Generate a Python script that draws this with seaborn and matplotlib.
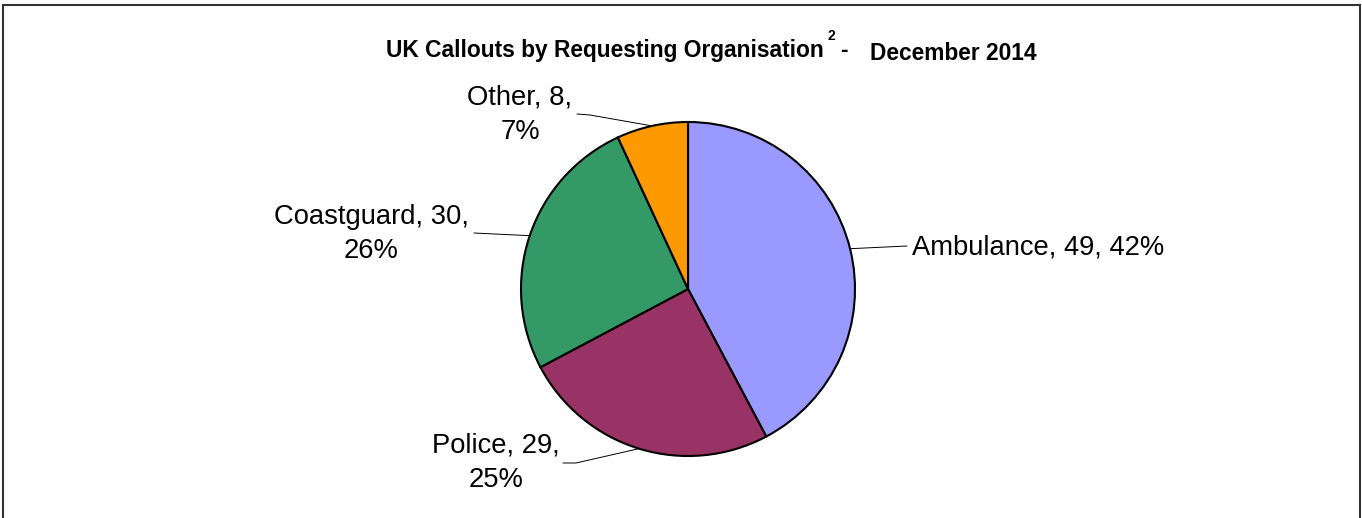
import numpy as np
import seaborn as sns
import matplotlib.pyplot as plt
from matplotlib.patches import Rectangle

# data
organisations = ["Ambulance", "Police", "Coastguard", "Other"]
callouts = [49, 29, 30, 8]
percent_labels = ["42%", "25%", "26%", "7%"]
slice_colors = ["#9999FF", "#993366", "#339966", "#FF9900"]

W, H = 1362, 518
sns.set_theme(style="white")
plt.rcParams["font.family"] = ["Liberation Sans", "DejaVu Sans"]
plt.rcParams["text.color"] = "black"

fig = plt.figure(figsize=(W / 100, H / 100), dpi=100)
ax = fig.add_axes([0, 0, 1, 1])


def px(x, y):
    # top-down pixel position -> data coords
    return x, H - y


cx, cy = px(688, 289)
radius = 167

wedges, _ = ax.pie(callouts, colors=sns.color_palette(slice_colors), startangle=90,
                   counterclock=False, center=(cx, cy), radius=radius,
                   wedgeprops=dict(edgecolor="black", linewidth=1.5))
ax.set_xlim(0, W)
ax.set_ylim(0, H)
ax.set_aspect("auto")
ax.axis("off")

# label text positions and leader elbows (top-down pixels)
label_pos = [(912, 247), (496, 463), (371, 234), (520, 115)]
label_ha = ["left", "center", "center", "center"]
label_sep = [", ", ",\n", ",\n", ",\n"]
elbows = [[(907, 246)], [(576, 463), (563, 463)], [(474, 233)], [(590, 115), (577, 114)]]

for w, name, n, pct, pos, ha, sep, elb in zip(wedges, organisations, callouts, percent_labels,
                                             label_pos, label_ha, label_sep, elbows):
    mid = np.deg2rad((w.theta1 + w.theta2) / 2)
    ex, ey = cx + radius * np.cos(mid), cy + radius * np.sin(mid)
    xs = [ex] + [p[0] for p in elb]
    ys = [ey] + [H - p[1] for p in elb]
    ax.plot(xs, ys, color="black", lw=0.7)
    tx, ty = px(*pos)
    ax.text(tx, ty, f"{name}, {n}{sep}{pct}", ha=ha, va="center", fontsize=19.7,
            multialignment="center", linespacing=1.42, color="black")

# title pieces
ax.text(*px(386, 57), "UK Callouts by Requesting Organisation", fontsize=16.4,
        fontweight="bold", ha="left", va="baseline", color="black")
ax.text(*px(827, 40), "2", fontsize=10, fontweight="bold", ha="left", va="baseline", color="black")
ax.text(*px(840, 57), "-", fontsize=16.4, fontweight="bold", ha="left", va="baseline", color="black")
ax.text(*px(870, 60), "December 2014", fontsize=16.4, fontweight="bold", ha="left", va="baseline",
        color="black")

# chart border
border = Rectangle(px(3, 530), 1357, 525, fill=False, edgecolor="#333333", lw=1.5, clip_on=False)
ax.add_patch(border)

fig.savefig("out.png", dpi=100)
plt.close(fig)
